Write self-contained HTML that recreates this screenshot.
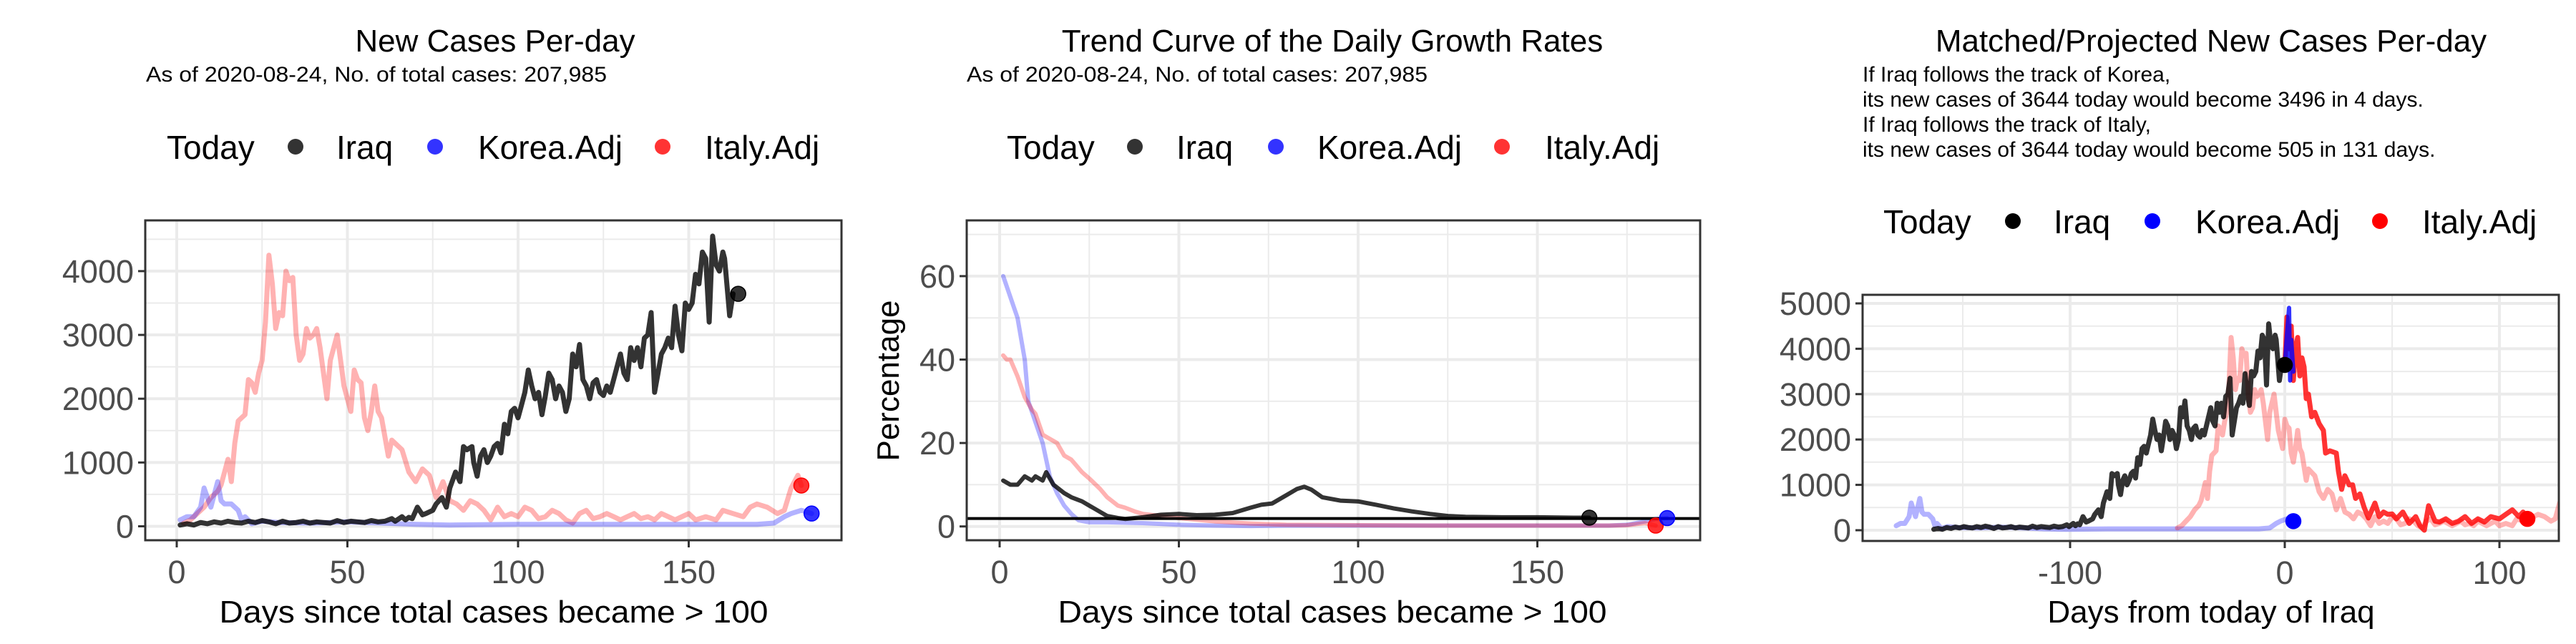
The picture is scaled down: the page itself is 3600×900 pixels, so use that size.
<!DOCTYPE html>
<html><head><meta charset="utf-8">
<style>
html,body{margin:0;padding:0;background:#fff;}
svg{display:block;font-family:"Liberation Sans",Arial,sans-serif;}
.title{font-size:44px;fill:#000;}
.sub{font-size:30px;fill:#000;}
.leg{font-size:46px;fill:#000;}
.tick{font-size:45px;fill:#4d4d4d;}
.axt{font-size:44px;fill:#000;}
</style></head>
<body>
<svg id="chart" width="3600" height="900" viewBox="0 0 3600 900" xmlns="http://www.w3.org/2000/svg">
<rect x="0" y="0" width="3600" height="900" fill="#fff"/>
<text class="title" x="692" y="72" text-anchor="middle">New Cases Per-day</text>
<text class="sub" x="204" y="114" textLength="644" lengthAdjust="spacingAndGlyphs">As of 2020-08-24, No. of total cases: 207,985</text>
<g>
<text class="leg" x="233" y="222">Today</text>
<circle cx="413" cy="205" r="11" fill="#000" opacity="0.8"/><text class="leg" x="470" y="222">Iraq</text>
<circle cx="608" cy="205" r="11" fill="#00f" opacity="0.8"/><text class="leg" x="668" y="222">Korea.Adj</text>
<circle cx="926" cy="205" r="11" fill="#f00" opacity="0.8"/><text class="leg" x="985" y="222">Italy.Adj</text>
</g>
<text class="axt" x="690" y="870" text-anchor="middle" textLength="767" lengthAdjust="spacingAndGlyphs">Days since total cases became &gt; 100</text>
<text class="title" x="1862" y="72" text-anchor="middle">Trend Curve of the Daily Growth Rates</text>
<text class="sub" x="1351" y="114" textLength="644" lengthAdjust="spacingAndGlyphs">As of 2020-08-24, No. of total cases: 207,985</text>
<g>
<text class="leg" x="1407" y="222">Today</text>
<circle cx="1586" cy="205" r="11" fill="#000" opacity="0.8"/><text class="leg" x="1644" y="222">Iraq</text>
<circle cx="1783" cy="205" r="11" fill="#00f" opacity="0.8"/><text class="leg" x="1841" y="222">Korea.Adj</text>
<circle cx="2099" cy="205" r="11" fill="#f00" opacity="0.8"/><text class="leg" x="2159" y="222">Italy.Adj</text>
</g>
<text class="axt" x="1862" y="870" text-anchor="middle" textLength="767" lengthAdjust="spacingAndGlyphs">Days since total cases became &gt; 100</text>
<text class="axt" transform="translate(1256,532) rotate(-90)" text-anchor="middle">Percentage</text>
<text class="title" x="3090" y="72" text-anchor="middle">Matched/Projected New Cases Per-day</text>
<g>
<text class="sub" x="2603" y="114">If Iraq follows the track of Korea,</text>
<text class="sub" x="2603" y="149">its new cases of 3644 today would become 3496 in 4 days.</text>
<text class="sub" x="2603" y="184">If Iraq follows the track of Italy,</text>
<text class="sub" x="2603" y="219">its new cases of 3644 today would become 505 in 131 days.</text>
</g>
<g>
<text class="leg" x="2632" y="326">Today</text>
<circle cx="2813" cy="309" r="11" fill="#000"/><text class="leg" x="2870" y="326">Iraq</text>
<circle cx="3008" cy="309" r="11" fill="#00f"/><text class="leg" x="3068" y="326">Korea.Adj</text>
<circle cx="3326" cy="309" r="11" fill="#f00"/><text class="leg" x="3385" y="326">Italy.Adj</text>
</g>
<text class="axt" x="3090" y="870" text-anchor="middle">Days from today of Iraq</text>
</svg>
<script>
// ---------- data ----------
const iraqDays = [1,3,5,7,9,11,13,15,17,19,21,23,25,27,29,31,33,35,37,39,41,43,45,47,49,51,53,55,57,59,61,63,64,66,67,68,69,70.5,72,73,75,76,77.7,79,80,81.7,83,84,85,86.5,87,88,89,90,91,92,93,94,95,96,97,98,99,100,101,102,103,104,105,106,107,108,109,110,111,112,113,114,115,116,117,118,119,120,121,122,123,124,125,126,127,128,129,130,131,132,133,134,135,136,137,138,139,140,141,142,143,144,145,146,147,148,149,150,151,152,153,154,155,156,157,158,159,160,160.5,161,162,163,164.5];
const iraqCases = [20,40,20,60,40,70,50,80,60,50,80,60,90,70,40,80,50,60,80,50,70,60,50,90,60,80,70,60,90,70,80,120,80,150,100,140,120,300,180,200,250,350,450,300,600,850,700,1250,1200,1250,1000,785,1100,1200,1000,1100,1250,1300,1150,1600,1450,1800,1850,1700,1900,2100,2450,2200,2000,2100,1750,2050,2400,2300,2000,2200,2100,1800,2000,2700,2500,2850,2300,2200,2000,2250,2300,2100,2050,2200,2100,2300,2500,2700,2400,2300,2800,2600,2800,2500,2950,3000,3350,2100,2400,2700,2800,2950,2800,3450,3000,2750,3500,3400,3500,3950,3800,4300,4200,3200,4550,4100,4000,4300,4200,3900,3300,3644];
const italyDays = [2,4,6,8,10,12,13,15,16,17,18,19,20,21,22,23,24,25,26,27,28,29,30,31,32,33,34,35,36,37,38,39,40,41,42,43,44,45,46,47,48,49,50,51,52,53,54,55,56,57,58,59,60,61,62,63,64,66,68,70,72,74,76,78,80,82,84,86,88,90,92,94,96,98,100,102,104,106,108,110,112,114,116,118,120,122,124,126,128,130,132,134,136,138,140,142,144,146,148,150,152,155,158,160,163,166,168,170,173,176,178,180,182,183];
const italyCases = [50,100,200,300,450,550,650,1050,700,1300,1650,1700,1750,2300,2250,2100,2400,2600,3200,4250,3800,3100,3350,3300,4000,3850,3900,3000,2600,2700,3100,2950,3000,3100,2800,2400,2000,2600,2800,3000,2600,2200,2000,1800,2450,2300,2250,1700,1500,1800,2200,1800,1700,1400,1100,1350,1300,1200,850,700,900,800,450,700,400,350,250,400,350,250,100,300,150,200,150,300,250,120,150,250,200,100,50,200,250,120,150,200,150,100,150,200,120,150,100,200,150,100,150,200,100,150,100,250,200,150,300,350,300,200,250,600,800,640];
const koreaDays = [1,3,5,7,8,9,10,11,12,13,14,16,18,19,20,22,25,30,40,50,60,70,80,100,120,140,160,170,175,178,180,183,186];
const koreaCases = [100,150,150,300,600,450,300,500,700,400,350,350,250,100,150,40,80,60,50,70,50,30,20,30,30,30,30,30,50,150,200,250,200];
const iraqRateDays = [1,3,5,7,9,10,12,13,15,18,20,23,25,28,30,33,35,40,45,50,55,60,65,70,73,76,80,83,85,87,90,95,100,105,110,115,120,125,130,140,150,160,164.5];
const iraqRate = [11,10,10,12,11,12,11,13,10,8,7,6,5,3.5,2.5,2,1.8,2.2,2.8,3,2.7,2.8,3.2,4.5,5.2,5.5,7.5,9,9.5,8.8,7,6.2,6,5.2,4.3,3.6,3,2.5,2.3,2.2,2.2,2.1,2.1];
const koreaRateDays = [1,3,5,7,8,10,12,14,16,18,20,22,25,30,40,50,60,70,80,100,120,140,160,170,175,180,183,186.2];
const koreaRate = [60,55,50,40,30,25,20,12,8,5,3,1.5,1,1,0.8,0.4,0.2,0.1,0.2,0.2,0.2,0.2,0.2,0.2,0.4,1.2,1.8,2];
const italyRateDays = [1,2,3,4,5,7,9,10,12,13,16,18,20,23,25,28,30,33,35,38,40,45,50,60,70,80,100,120,140,160,170,175,180,183];
const italyRate = [41,40,40,38,36,31,28,27,22,21.5,20,17,16,13,11.5,9,7,5,4.5,3.5,3,2.5,2,1.2,0.7,0.4,0.3,0.2,0.2,0.2,0.2,0.3,0.8,0.2];
const todayRate = 1.9;
const koreaProjDays = [0,1,2,2.5,3,4];
const koreaProjCases = [3600,4300,4900,3300,4200,3496];
const italyProjDays = [0,1,2,3,4,5,6,7,8,9,10,11,12.5,14,16,18,19,21,24,25,26.5,28,30,31.6,33,35,37,39,42,44,46,48,50,52,55,58,61,63,65,67,70,72,75,78,81,84,87,90,93,96,100,103,106,109,111,113];
const italyProjCases = [3600,4700,4000,4500,3300,4000,4250,3400,3800,3600,2900,3000,2500,2600,2350,2200,1700,1750,1700,1300,900,1200,1000,1000,700,800,500,270,600,300,400,350,360,250,400,150,300,100,0,540,200,180,250,150,200,300,150,250,180,300,250,350,450,300,400,250];
const iraqShift = 164.5, koreaShift = 182, italyShift = 52;

// ---------- drawing ----------
const NS = 'http://www.w3.org/2000/svg';
const svg = document.getElementById('chart');
function el(tag, attrs, parent){ const e=document.createElementNS(NS,tag); for(const k in attrs) e.setAttribute(k,attrs[k]); (parent||svg).appendChild(e); return e; }

function makePanel(cfg){
  const g = el('g',{});
  
  
  const sx = v => cfg.x0 + (v - cfg.xv0) * cfg.xs;
  const sy = v => cfg.y0 - v * cfg.ys;
  cfg.yMinor.forEach(v=>{ const l=el('line',{x1:cfg.L,x2:cfg.R,y1:sy(v),y2:sy(v),stroke:'#ebebeb','stroke-width':2},g);
      });
  cfg.xMinor.forEach(v=>{ const l=el('line',{x1:sx(v),x2:sx(v),y1:cfg.T,y2:cfg.B,stroke:'#ebebeb','stroke-width':2},g);
      });
  cfg.yTicks.forEach(v=>{ const l=el('line',{x1:cfg.L,x2:cfg.R,y1:sy(v),y2:sy(v),stroke:'#ebebeb','stroke-width':4},g);
     
    const t=el('line',{x1:cfg.L-10,x2:cfg.L,y1:sy(v),y2:sy(v),stroke:'#333','stroke-width':3},g);
     
    const tx=el('text',{x:cfg.L-16,y:sy(v)+16,'text-anchor':'end',class:'tick'},g); tx.textContent=String(v);
      });
  cfg.xTicks.forEach(v=>{ const l=el('line',{x1:sx(v),x2:sx(v),y1:cfg.T,y2:cfg.B,stroke:'#ebebeb','stroke-width':4},g);
     
    const t=el('line',{x1:sx(v),x2:sx(v),y1:cfg.B,y2:cfg.B+10,stroke:'#333','stroke-width':3},g);
     
    const tx=el('text',{x:sx(v),y:cfg.B+60,'text-anchor':'middle',class:'tick'},g); tx.textContent=String(v);
      });
  const cid='clip-'+cfg.name;
  const cp=el('clipPath',{id:cid},g); el('rect',{x:cfg.L,y:cfg.T,width:cfg.R-cfg.L,height:cfg.B-cfg.T},cp);
  const data=el('g',{'clip-path':'url(#'+cid+')'},g);
  return {g,data,sx,sy,cfg};
}
function line(p, xs, ys, shift, color, op, w, name){
  const pts = xs.map((x,i)=>p.sx(x-shift).toFixed(1)+','+p.sy(ys[i]).toFixed(1)).join(' ');
  const l = el('polyline',{points:pts,fill:'none',stroke:color,'stroke-opacity':op,'stroke-width':w,'stroke-linejoin':'round','stroke-linecap':'round'},p.data);
  
  
}
function dot(p, x, y, color, op, name){
  const c = el('circle',{cx:p.sx(x),cy:p.sy(y),r:10.5,fill:color,'fill-opacity':op,stroke:color,'stroke-width':1.5},p.data);
  
  
}
function frame(p){
  const c=p.cfg; const f=el('rect',{x:c.L,y:c.T,width:c.R-c.L,height:c.B-c.T,fill:'none',stroke:'#333','stroke-width':3},p.g);
   
}
const last = a => a[a.length-1];

const p1 = makePanel({name:'panel1-new-cases',L:203,R:1176,T:308,B:755,x0:247,xv0:0,xs:4.77,y0:735.5,ys:0.08915,
  xTicks:[0,50,100,150], xMinor:[25,75,125,175], yTicks:[0,1000,2000,3000,4000], yMinor:[500,1500,2500,3500,4500]});
line(p1, italyDays, italyCases, 0, '#f00', 0.3, 7, 'italy-adj-line');
line(p1, koreaDays, koreaCases, 0, '#00f', 0.3, 7, 'korea-adj-line');
line(p1, iraqDays, iraqCases, 0, '#000', 0.8, 7, 'iraq-line');
dot(p1, last(iraqDays), last(iraqCases), '#000', 0.8, 'iraq-today-point');
dot(p1, last(italyDays), last(italyCases), '#f00', 0.8, 'italy-today-point');
dot(p1, last(koreaDays), last(koreaCases), '#00f', 0.8, 'korea-today-point');
frame(p1);

const p2 = makePanel({name:'panel2-growth-rates',L:1351,R:2376,T:308,B:755,x0:1397,xv0:0,xs:5.01,y0:735.7,ys:5.83,
  xTicks:[0,50,100,150], xMinor:[25,75,125,175], yTicks:[0,20,40,60], yMinor:[10,30,50,70]});
line(p2, koreaRateDays, koreaRate, 0, '#00f', 0.3, 6, 'korea-adj-rate-line');
line(p2, italyRateDays, italyRate, 0, '#f00', 0.3, 6, 'italy-adj-rate-line');
line(p2, iraqRateDays, iraqRate, 0, '#000', 0.8, 6, 'iraq-rate-line');
const hl = el('line',{x1:1351,x2:2376,y1:p2.sy(todayRate),y2:p2.sy(todayRate),stroke:'#000','stroke-width':4},p2.data);


dot(p2, last(iraqRateDays), last(iraqRate), '#000', 0.8, 'iraq-today-point');
dot(p2, last(italyRateDays), last(italyRate), '#f00', 0.8, 'italy-today-point');
dot(p2, last(koreaRateDays), last(koreaRate), '#00f', 0.8, 'korea-today-point');
frame(p2);

const p3 = makePanel({name:'panel3-projected-cases',L:2603,R:3576,T:412,B:756,x0:3193,xv0:0,xs:3.0,y0:741,ys:0.0634,
  xTicks:[-100,0,100], xMinor:[-150,-50,50], yTicks:[0,1000,2000,3000,4000,5000], yMinor:[500,1500,2500,3500,4500]});
line(p3, koreaDays, koreaCases, koreaShift, '#00f', 0.3, 7, 'korea-adj-matched-line');
line(p3, italyDays, italyCases, italyShift, '#f00', 0.3, 7, 'italy-adj-matched-line');
line(p3, iraqDays, iraqCases, iraqShift, '#000', 0.8, 7, 'iraq-matched-line');
line(p3, italyProjDays, italyProjCases, 0, '#f00', 0.8, 7, 'italy-projection-line');
line(p3, koreaProjDays, koreaProjCases, 0, '#00f', 0.8, 6, 'korea-projection-line');
dot(p3, 0, last(iraqCases), '#000', 1, 'iraq-today-point');
dot(p3, last(koreaDays)-koreaShift, last(koreaCases), '#00f', 1, 'korea-today-point');
dot(p3, last(italyProjDays), last(italyProjCases), '#f00', 1, 'italy-today-point');
frame(p3);
</script>
</body></html>
